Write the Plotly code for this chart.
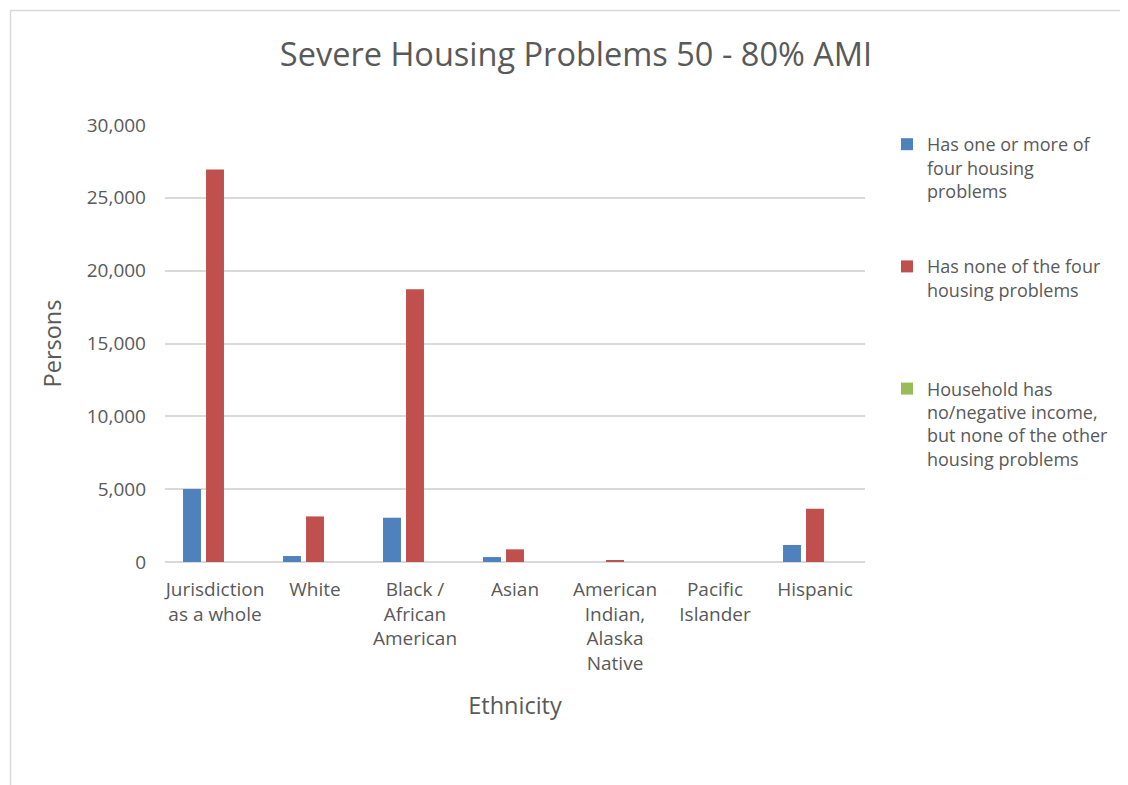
import plotly.graph_objects as go

categories = ["Jurisdiction<br>as a whole", "White", "Black /<br>African<br>American", "Asian",
              "American<br>Indian,<br>Alaska<br>Native", "Pacific<br>Islander", "Hispanic"]
has_problems = [5010, 410, 3040, 340, 0, 0, 1170]
no_problems = [26950, 3130, 18720, 870, 100, 0, 3660]
no_income = [0, 0, 0, 0, 0, 0, 0]

series_names = ["Has one or more of<br>four housing<br>problems",
                "Has none of the four<br>housing problems<br> ",
                "Household has<br>no/negative income,<br>but none of the other<br>housing problems"]
series_colors = ["#4F81BD", "#C0504D", "#9BBB59"]

# page body margin offset (browser default 8px)
OFF = 8
W, H = 1128 - OFF, 785 - OFF
# plot area in reference (screen) pixels
L, R, T, B = 165, 865, 125, 562

def px_x(p):
    return (p - L) / (R - L)

def px_y(p):
    return (B - p) / (B - T)

FONT = "Open Sans"
GREY = "#595959"

fig = go.Figure()
for name, vals, col in zip(series_names, [has_problems, no_problems, no_income], series_colors):
    fig.add_trace(go.Bar(x=categories, y=vals, name=name, marker_color=col,
                         marker_line_width=0, legendgroup=name))

fig.update_layout(
    width=W, height=H,
    margin=dict(l=L - OFF, r=W - (R - OFF), t=T - OFF, b=H - (B - OFF), autoexpand=False),
    paper_bgcolor="white", plot_bgcolor="white",
    font=dict(family=FONT, color=GREY, size=19),
    title=dict(text="Severe Housing Problems 50 - 80% AMI", x=(576 - OFF) / W, xref="container",
               xanchor="center", y=1 - (55 - OFF) / H, yref="container", yanchor="middle",
               font=dict(size=32.5, color=GREY, family=FONT)),
    barmode="group", bargap=0.31, bargroupgap=0.22,
    xaxis=dict(showgrid=False, showline=False, ticks="", tickfont=dict(size=19, color=GREY),
               ticklabelstandoff=14,
               title=dict(text="Ethnicity", font=dict(size=23.5, color=GREY), standoff=22)),
    yaxis=dict(range=[0, 30000], tickvals=[0, 5000, 10000, 15000, 20000, 25000, 30000],
               tickformat=",", showgrid=True, gridcolor="#D9D9D9", gridwidth=1.5,
               zeroline=True, zerolinecolor="#D9D9D9", zerolinewidth=1.5,
               showline=False, ticks="", ticklabelstandoff=18,
               tickfont=dict(size=19, color=GREY),
               title=dict(text="Persons", font=dict(size=23.5, color=GREY), standoff=18)),
    legend=dict(x=px_x(887), y=px_y(126), xanchor="left", yanchor="top",
                font=dict(size=18, color=GREY, family=FONT), valign="top",
                tracegroupgap=49, itemwidth=30, bgcolor="rgba(0,0,0,0)"),
    showlegend=True,
)

fig.add_shape(type="rect", xref="paper", yref="paper",
              x0=px_x(10.5), x1=px_x(1140), y0=px_y(10.5), y1=px_y(800),
              line=dict(color="#D9D9D9", width=1.5), fillcolor="rgba(0,0,0,0)", layer="below")

fig.write_html("out.html")
